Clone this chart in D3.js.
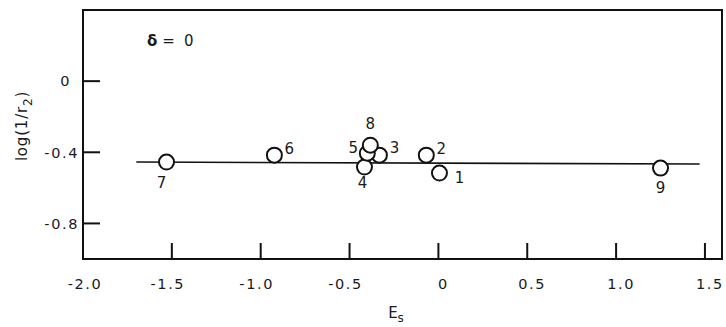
<!DOCTYPE html>
<html lang="en">
<head>
<meta charset="utf-8">
<style>
  body { margin: 0; background: white; }
  svg { font-family: 'DejaVu Sans', sans-serif; }
  .tick-label { font-size: 14.5px; fill: #1a1a1a; letter-spacing: 1.6px; }
  .pt-label { font-size: 15px; fill: #1a1a1a; }
  .frame { fill: none; stroke: #111; stroke-width: 2px; }
</style>
</head>
<body>
<svg width="726" height="327"></svg>
<script src="https://d3js.org/d3.v7.min.js"></script>
<script>
// data
const ids   = ["1", "2", "3", "4", "5", "6", "7", "8", "9"];
const es    = [0.006, -0.068, -0.332, -0.416, -0.40, -0.923, -1.53, -0.383, 1.25];
const logr  = [-0.517, -0.416, -0.416, -0.483, -0.405, -0.416, -0.455, -0.36, -0.489];
const fitX  = [-1.70, 1.47];
const fitY  = [-0.455, -0.466];
const xTicks = [-2.0, -1.5, -1.0, -0.5, 0, 0.5, 1.0, 1.5];
const yTicks = [0, -0.4, -0.8];

// label placement (pixels from point centre)
const labelOffset = {
  "1": [20, 5], "2": [15, -7], "3": [15, -8], "4": [-2, 16], "5": [-14, -6],
  "6": [15, -7], "7": [-5, 21], "8": [0, -22], "9": [0, 19]
};

const svg = d3.select("svg");
const m = { left: 83, right: 722, top: 10, bottom: 259 };

const x = d3.scaleLinear().domain([-2.0, 1.596]).range([m.left, m.right]);
const y = d3.scaleLinear().domain([-1.0, 0.4]).range([m.bottom, m.top]);

// plain hyphen minus like the typed original
const fmt = t => t === 0 ? "0" : d3.format(".1f")(t).replace("\u2212", "-");

// frame
svg.append("rect").attr("class", "frame")
  .attr("x", m.left).attr("y", m.top)
  .attr("width", m.right - m.left).attr("height", m.bottom - m.top);

// x ticks (inward)
const xg = svg.append("g");
xTicks.forEach(t => {
  if (t > -2.0) {
    xg.append("line")
      .attr("x1", x(t)).attr("x2", x(t))
      .attr("y1", m.bottom).attr("y2", m.bottom - 16)
      .attr("stroke", "#111").attr("stroke-width", 2);
  }
  xg.append("text").attr("class", "tick-label")
    .attr("x", x(t)).attr("y", 289)
    .attr("dx", t === -2.0 ? 2 : (t < 0 ? -4 : 5))
    .attr("text-anchor", "middle")
    .text(fmt(t));
});

// y ticks (inward)
const yg = svg.append("g");
yTicks.forEach(t => {
  yg.append("line")
    .attr("x1", m.left).attr("x2", m.left + 17)
    .attr("y1", y(t)).attr("y2", y(t))
    .attr("stroke", "#111").attr("stroke-width", 2);
  yg.append("text").attr("class", "tick-label")
    .attr("x", 79).attr("y", y(t))
    .attr("dx", t === 0 ? -8 : 0)
    .attr("dy", "0.36em")
    .attr("text-anchor", "end")
    .text(fmt(t));
});

// fitted line
svg.append("line")
  .attr("x1", x(fitX[0])).attr("y1", y(fitY[0]))
  .attr("x2", x(fitX[1])).attr("y2", y(fitY[1]))
  .attr("stroke", "#111").attr("stroke-width", 1.6);

// points
const pts = ids.map((id, i) => ({ id: id, es: es[i], v: logr[i] }));
svg.append("g").selectAll("circle")
  .data(pts).join("circle")
  .attr("cx", d => x(d.es)).attr("cy", d => y(d.v))
  .attr("r", 7.5)
  .attr("fill", "white").attr("stroke", "#111").attr("stroke-width", 2);

svg.append("g").selectAll("text")
  .data(pts).join("text")
  .attr("class", "pt-label")
  .attr("x", d => x(d.es) + labelOffset[d.id][0])
  .attr("y", d => y(d.v) + labelOffset[d.id][1])
  .attr("dy", "0.36em")
  .attr("text-anchor", "middle")
  .text(d => d.id);

// delta annotation
const ann = svg.append("text").attr("x", 147).attr("y", 46).attr("class", "pt-label");
ann.append("tspan").attr("font-weight", "bold").text("δ");
ann.append("tspan").attr("dx", 5).text("=");
ann.append("tspan").attr("dx", 9).text("0");

// axis titles
const xt = svg.append("text").attr("class", "pt-label")
  .attr("x", 396).attr("y", 318).attr("text-anchor", "middle");
xt.append("tspan").text("E");
xt.append("tspan").attr("font-size", "12px").attr("dy", 4).text("s");

const yt = svg.append("text").attr("class", "pt-label")
  .attr("transform", "translate(27,126) rotate(-90)")
  .attr("text-anchor", "middle")
  .style("letter-spacing", "0.8px");
yt.append("tspan").text("log(1/r");
yt.append("tspan").attr("font-size", "12px").attr("dy", 5).text("2");
yt.append("tspan").attr("dy", -5).text(")");
</script>
</body>
</html>
